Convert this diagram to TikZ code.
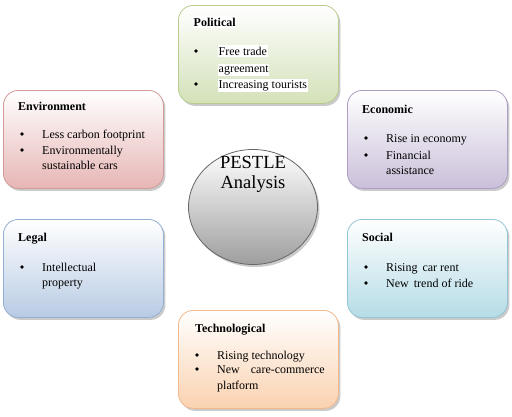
\documentclass[tikz,border=0pt]{standalone}
\usepackage{fontspec}
\setmainfont{Liberation Serif}
\usetikzlibrary{shadows,shapes.geometric}
\definecolor{polF}{HTML}{D3E1B8}\definecolor{polD}{HTML}{B8CC8E}
\definecolor{envF}{HTML}{E6B6B5}\definecolor{envD}{HTML}{D29A98}
\definecolor{ecoF}{HTML}{CABFD9}\definecolor{ecoD}{HTML}{AE9EC5}
\definecolor{legF}{HTML}{B8CBE4}\definecolor{legD}{HTML}{93AFD3}
\definecolor{socF}{HTML}{B5DCE6}\definecolor{socD}{HTML}{92C6D6}
\definecolor{tecF}{HTML}{FAD2B0}\definecolor{tecD}{HTML}{F2B98C}
\tikzset{
  x=1pt,y=-1pt,
  cardbox/.style n args={2}{draw=#2, line width=0.8pt, rounded corners=15pt,
     top color=white, bottom color=#1, minimum width=160pt, minimum height=98pt,
     inner sep=0pt, anchor=north west,
     drop shadow={shadow xshift=2pt, shadow yshift=-2.5pt, opacity=0.35, fill=black!60}},
  ttl/.style={anchor=base west, font=\fontsize{12}{13}\selectfont\bfseries, inner sep=0pt},
  itm/.style={anchor=base west, font=\fontsize{12}{13}\selectfont, inner sep=0pt},
  hitm/.style={itm, fill=white, inner ysep=1.5pt, inner xsep=0.5pt},
  bul/.style={circle, fill=black, inner sep=0pt, minimum size=3.6pt},
}
\begin{document}
\begin{tikzpicture}
\useasboundingbox (0,0) rectangle (512,416);
% boxes
\node[cardbox={polF}{polD}] (pol) at (178,5) {};
\node[cardbox={envF}{envD}] (env) at (3,90) {};
\node[cardbox={ecoF}{ecoD}] (eco) at (347,90) {};
\node[cardbox={legF}{legD}] (leg) at (3,219) {};
\node[cardbox={socF}{socD}] (soc) at (347,219) {};
\node[cardbox={tecF}{tecD}] (tec) at (178,310) {};
% centre
\node[ellipse, draw=black!60, line width=0.8pt, minimum width=129pt, minimum height=115pt,
  top color=white, bottom color=black!38,
  drop shadow={shadow xshift=2pt, shadow yshift=-2.5pt, opacity=0.35, fill=black!60}] (ctr) at (253,207) {};
\node[align=center, font=\fontsize{18.5}{20}\selectfont, anchor=base, inner sep=0pt] (ctrtxt) at (253,188) {PESTLE\\Analysis};
% Political
\node[ttl, fill=white, inner ysep=1.5pt, inner xsep=0.5pt] (polt) at (193,26) {Political};
\node[bul] (polb1) at (196,51) {};
\node[hitm] (poli1) at (218,55) {Free trade};
\node[hitm] (poli1b) at (218,72) {agreement};
\node[bul] (polb2) at (196,84) {};
\node[hitm] (poli2) at (218,88) {Increasing tourists};
% Environment
\node[ttl] (envt) at (18,110) {Environment};
\node[bul] (envb1) at (22,134) {};
\node[itm] (envi1) at (42,138) {Less carbon footprint};
\node[bul] (envb2) at (22,150) {};
\node[itm] (envi2) at (42,154) {Environmentally};
\node[itm] (envi2b) at (42,169) {sustainable cars};
% Economic
\node[ttl] (ecot) at (362,113) {Economic};
\node[bul] (ecob1) at (366,138) {};
\node[itm] (ecoi1) at (386,142) {Rise in economy};
\node[bul] (ecob2) at (366,155) {};
\node[itm] (ecoi2) at (386,159) {Financial};
\node[itm] (ecoi2b) at (386,174) {assistance};
% Legal
\node[ttl] (legt) at (18,241) {Legal};
\node[bul] (legb1) at (22,267) {};
\node[itm] (legi1) at (42,271) {Intellectual};
\node[itm] (legi1b) at (42,286) {property};
% Social
\node[ttl] (soct) at (362,241) {Social};
\node[bul] (socb1) at (366,267) {};
\node[itm] (soci1) at (386,271) {Rising\, car rent};
\node[bul] (socb2) at (366,283) {};
\node[itm] (soci2) at (386,287) {New\, trend of ride};
% Technological
\node[ttl] (tect) at (195,332) {Technological};
\node[bul] (tecb1) at (197,355) {};
\node[itm] (teci1) at (217,359) {Rising technology};
\node[bul] (tecb2) at (197,369) {};
\node[itm] (teci2) at (217,373) {New\hspace{11pt}care-commerce};
\node[itm] (teci2b) at (217,389) {platform};
\end{tikzpicture}
\end{document}
